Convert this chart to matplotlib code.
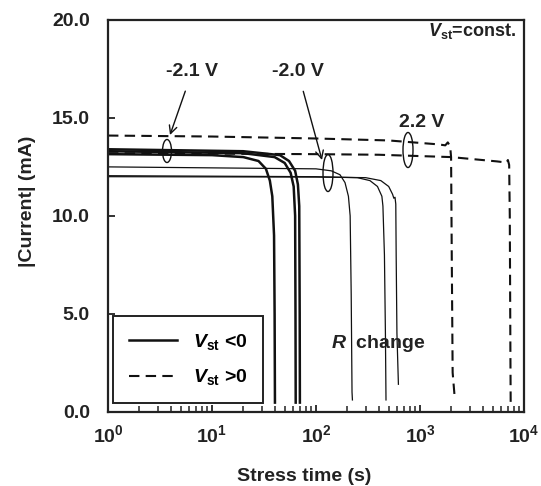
import math
import matplotlib
matplotlib.use("Agg")
import matplotlib.pyplot as plt
from matplotlib.patches import Ellipse
from matplotlib.lines import Line2D
from matplotlib.ticker import LogLocator, FixedLocator, FuncFormatter, NullFormatter

plt.rcParams['font.family'] = ['Liberation Sans', 'DejaVu Sans']
plt.rcParams['font.weight'] = 'bold'
plt.rcParams['mathtext.fontset'] = 'custom'
plt.rcParams['mathtext.rm'] = 'Liberation Sans:bold'
plt.rcParams['mathtext.bf'] = 'Liberation Sans:bold'
plt.rcParams['mathtext.it'] = 'Liberation Sans:italic:bold'
plt.rcParams['mathtext.bfit'] = 'Liberation Sans:italic:bold'

# ---- data (stress time in s, |current| in mA) ----
# V_st < 0  (thick: -2.1 V group, thin: -2.0 V group)
neg1_t = [1, 10, 20, 28, 33, 36, 38, 39.5, 40, 40.3]
neg1_i = [13.15, 13.1, 13.0, 12.8, 12.4, 11.8, 11.0, 9.0, 5.0, 0.4]
neg2_t = [1, 20, 40, 50, 57, 61, 63, 63.5, 63.8]
neg2_i = [13.3, 13.2, 13.0, 12.7, 12.2, 11.5, 10.0, 5.0, 0.4]
neg3_t = [1, 20, 45, 55, 63, 67, 69, 69.7, 70]
neg3_i = [13.4, 13.3, 13.1, 12.8, 12.3, 11.6, 10.5, 5.0, 0.4]
neg4_t = [1, 100, 140, 170, 190, 205, 213, 218, 222, 224]
neg4_i = [12.5, 12.4, 12.3, 12.1, 11.7, 11.0, 10.0, 6.0, 1.0, 0.6]
neg5_t = [1, 100, 250, 330, 390, 430, 440, 455, 465, 471]
neg5_i = [12.05, 12.0, 11.95, 11.8, 11.5, 11.0, 10.5, 8.0, 4.0, 0.6]
neg6_t = [1, 100, 300, 420, 500, 545, 560, 575, 585, 590, 600, 620]
neg6_i = [12.0, 11.98, 11.95, 11.8, 11.5, 11.1, 10.9, 10.95, 10.6, 8.0, 4.0, 1.4]
# V_st > 0  (2.2 V)
pos1_t = [1, 10, 100, 500, 1500, 1750, 1850, 1950, 1990, 2020, 2060, 2150]
pos1_i = [14.1, 14.05, 13.95, 13.85, 13.65, 13.6, 13.75, 13.55, 13.0, 8.0, 2.0, 0.8]
pos2_t = [1, 100, 400, 2000, 5500, 6800, 7000, 7200, 7300, 7400, 7450]
pos2_i = [13.2, 13.15, 13.12, 13.0, 12.78, 12.72, 12.85, 12.6, 10.0, 3.0, 0.2]

solid_thick = [(neg1_t, neg1_i), (neg2_t, neg2_i), (neg3_t, neg3_i)]
solid_thin = [(neg4_t, neg4_i), (neg5_t, neg5_i), (neg6_t, neg6_i)]
dashed = [(pos1_t, pos1_i), (pos2_t, pos2_i)]

y_ticks = [0, 5, 10, 15, 20]
x_decades = [1, 10, 100, 1000, 10000]

W, H = 541, 486
fig = plt.figure(figsize=(W / 100, H / 100), dpi=100)
L, R, T, B = 108, 524, 20, 411.7
ax = fig.add_axes([L / W, 1 - B / H, (R - L) / W, (B - T) / H])

c = '#111111'
for t, i in solid_thick:
    ax.plot(t, i, color=c, lw=1.8, solid_capstyle='butt')
for t, i in solid_thin:
    ax.plot(t, i, color=c, lw=0.9)
for t, i in dashed:
    ax.plot(t, i, color=c, lw=1.5, dashes=(5, 3))

ax.set_xscale('log')
ax.set_xlim(1, 1e4)
ax.set_ylim(0, 20)
ax.xaxis.set_major_locator(FixedLocator(x_decades))
ax.xaxis.set_minor_locator(LogLocator(base=10, subs=range(2, 10)))
ax.xaxis.set_minor_formatter(NullFormatter())
ax.xaxis.set_major_formatter(FuncFormatter(lambda v, p: r'$\mathbf{10^{%d}}$' % round(math.log10(v))))
ax.yaxis.set_major_locator(FixedLocator(y_ticks))
ax.yaxis.set_major_formatter(FuncFormatter(lambda v, p: '%.1f' % v))
ax.tick_params(axis='both', which='major', direction='in', length=5, width=1.3,
               labelsize=14, colors='#222222', pad=9)
ax.tick_params(axis='y', which='major', pad=13)
ax.tick_params(axis='x', which='minor', direction='in', length=4, width=1.1, colors='#222222')
ax.tick_params(top=False, right=False)
for s in ax.spines.values():
    s.set_linewidth(1.6)
    s.set_color('#222222')

fig.text(304 / W, 1 - 476 / H, 'Stress time (s)', ha='center', va='center',
         fontsize=14, fontweight='bold', color='#222222')
fig.text(28 / W, 1 - 201 / H, '|Current| (mA)', ha='center', va='center',
         rotation=90, fontsize=14, fontweight='bold', color='#222222')

def px(x, y):
    return ((x - L) / (R - L), (B - y) / (B - T))

tk = dict(fontsize=14, fontweight='bold', color='#222222', ha='center', va='center')
ax.annotate('-2.1 V', xy=px(170, 135), xycoords='axes fraction',
            xytext=px(192, 72), textcoords='axes fraction',
            arrowprops=dict(arrowstyle='->', color=c, lw=1.0, shrinkA=6, shrinkB=0,
                            mutation_scale=14), **tk)
ax.annotate('-2.0 V', xy=px(322, 160), xycoords='axes fraction',
            xytext=px(298, 72), textcoords='axes fraction',
            arrowprops=dict(arrowstyle='->', color=c, lw=1.0, shrinkA=6, shrinkB=0,
                            mutation_scale=14), **tk)
ax.text(*px(422, 122), '2.2 V', transform=ax.transAxes, **tk)
ax.text(*px(378, 344), r'$\mathbfit{R}$  change', transform=ax.transAxes, **tk)
tk2 = dict(tk, fontsize=13)
ax.text(*px(472, 31), r'$\mathbfit{V}_{\mathbf{st}}$=const.', transform=ax.transAxes, **tk2)

for (cx, cy, w, h) in [(167, 151, 9, 23), (328, 173, 10, 37), (408, 150, 10, 35)]:
    x0, y0 = px(cx, cy)
    ax.add_patch(Ellipse((x0, y0), w / (R - L), h / (B - T), transform=ax.transAxes,
                         fill=False, edgecolor=c, lw=1.0))

handles = [Line2D([], [], color=c, lw=1.8),
           Line2D([], [], color=c, lw=1.5, dashes=(5, 3))]
labels = [r'$\mathbfit{V}_{\mathbf{st}}$ <0', r'$\mathbfit{V}_{\mathbf{st}}$ >0']
leg = ax.legend(handles, labels, loc='lower left', bbox_to_anchor=px(113, 403),
                borderaxespad=0, prop=dict(family='Liberation Sans', weight='bold', size=14),
                handlelength=2.5, handletextpad=0.8, labelspacing=0.8, borderpad=0.8,
                fancybox=False, framealpha=1, edgecolor='#222222')
leg.get_frame().set_linewidth(1.4)

fig.savefig('out.png', dpi=100)
